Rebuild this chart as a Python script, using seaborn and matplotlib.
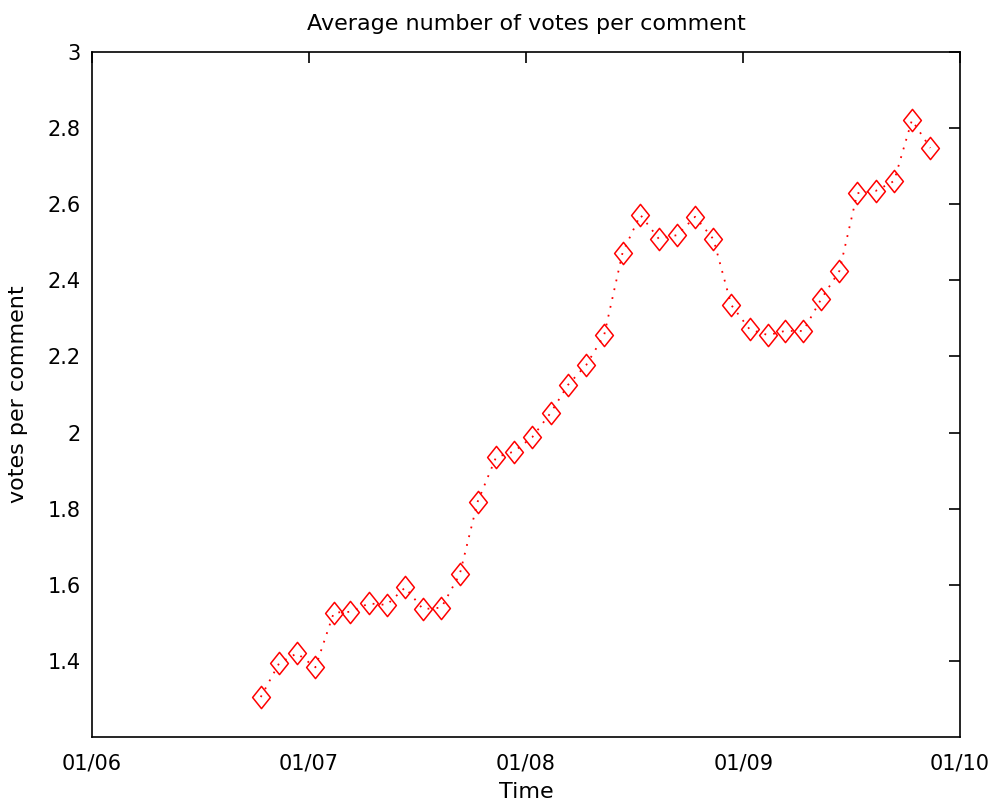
import numpy as np
import pandas as pd
import seaborn as sns
import matplotlib.pyplot as plt
import matplotlib.dates as mdates
from matplotlib.path import Path

# monthly averages, Oct 2006 .. Nov 2009
months = pd.date_range("2006-10-01", "2009-11-01", freq="MS") + pd.Timedelta(days=11)
votes = [1.305, 1.394, 1.420, 1.383, 1.527, 1.529, 1.551, 1.547, 1.593, 1.536,
         1.540, 1.628, 1.818, 1.935, 1.950, 1.988, 2.052, 2.125, 2.178, 2.256,
         2.473, 2.572, 2.509, 2.519, 2.567, 2.508, 2.335, 2.271, 2.256, 2.267,
         2.267, 2.350, 2.425, 2.629, 2.635, 2.661, 2.821, 2.748]
year_ticks = ["2006-01-01", "2007-01-01", "2008-01-01", "2009-01-01", "2010-01-01"]
y_ticks = [1.4, 1.6, 1.8, 2.0, 2.2, 2.4, 2.6, 2.8, 3.0]
y_labels = ["1.4", "1.6", "1.8", "2", "2.2", "2.4", "2.6", "2.8", "3"]

df = pd.DataFrame({"Time": months, "votes": votes})

sns.set_style("white")
plt.rcParams["font.family"] = ["DejaVu Sans"]
plt.rcParams["text.color"] = "black"

# MATLAB-like diamond, a bit taller than wide
diamond = Path([(0, 1), (0.8, 0), (0, -1), (-0.8, 0), (0, 1)],
               [Path.MOVETO, Path.LINETO, Path.LINETO, Path.LINETO, Path.CLOSEPOLY])

fig = plt.figure(figsize=(9.96, 8.09), dpi=100)
ax = fig.add_axes([0.0924, 0.089, 0.8715, 0.8467])

sns.lineplot(data=df, x="Time", y="votes", ax=ax, color="red",
             linestyle=(0, (1, 4)), linewidth=1.3, marker=diamond, markersize=16,
             markerfacecolor="none", markeredgecolor="red", markeredgewidth=1.1)

ax.set_xlim(pd.Timestamp(year_ticks[0]), pd.Timestamp(year_ticks[-1]))
ax.set_ylim(1.2, 3.0)
ax.set_xticks([pd.Timestamp(t) for t in year_ticks])
ax.xaxis.set_major_formatter(mdates.DateFormatter("%m/%y"))
ax.set_yticks(y_ticks)
ax.set_yticklabels(y_labels)

for s in ax.spines.values():
    s.set_visible(True)
    s.set_color("black")
    s.set_linewidth(1.2)

ax.tick_params(direction="in", length=8, width=1.2, top=True, right=True,
               labelsize=15, colors="black", labelcolor="black", pad=8)
ax.tick_params(axis="x", pad=12)

ax.set_title("Average number of votes per comment", fontsize=16, pad=16,
             color="black")
ax.set_xlabel("Time", fontsize=16, labelpad=6, color="black")
ax.set_ylabel("votes per comment", fontsize=16, labelpad=14, color="black")

fig.savefig("out.png", dpi=100)
